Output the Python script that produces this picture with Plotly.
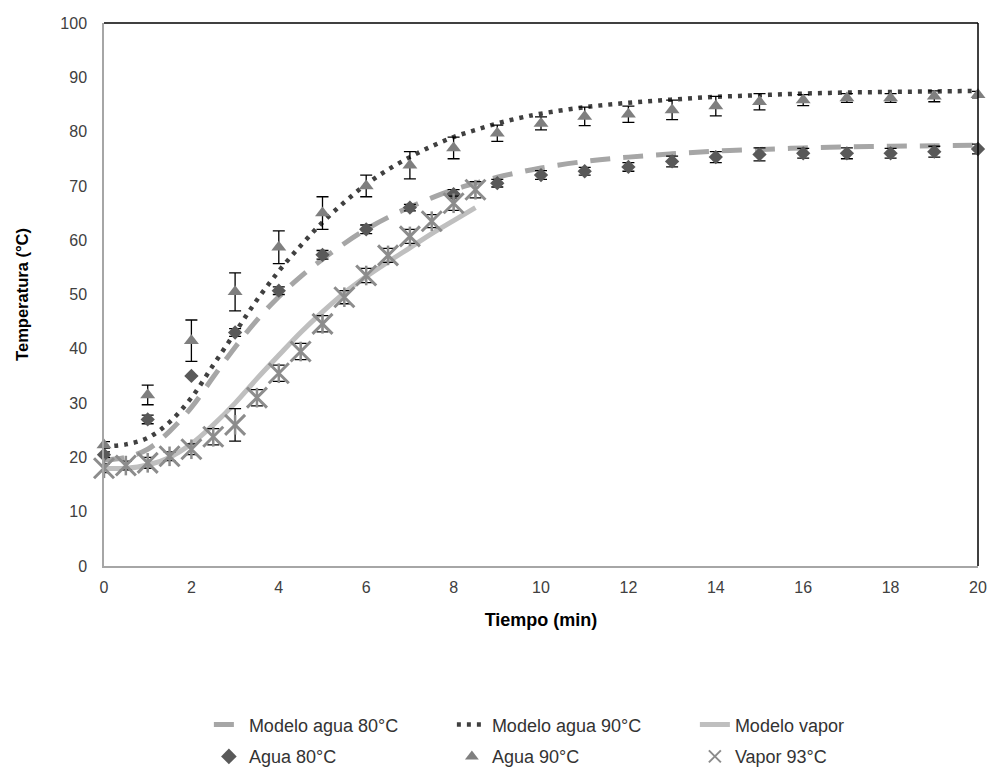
import plotly.graph_objects as go

# ---- data ----
t_model = [0, 0.5, 1, 1.5, 2, 2.5, 3, 3.5, 4, 4.5, 5, 5.5, 6, 6.5, 7, 7.5, 8, 8.5, 9, 9.5, 10,
           11, 12, 13, 14, 15, 16, 17, 18, 19, 20]
modelo_80 = [19.5, 20.0, 21.5, 24.8, 29.2, 34.8, 40.3, 45.3, 49.6, 53.3, 56.5, 59.4, 62.0, 64.2, 66.1,
             67.8, 69.3, 70.5, 71.6, 72.5, 73.3, 74.5, 75.3, 75.9, 76.4, 76.7, 77.0, 77.2, 77.3, 77.4, 77.5]
modelo_90 = [22.0, 22.4, 23.6, 26.5, 31.0, 37.0, 43.0, 49.0, 54.3, 59.0, 63.3, 67.0, 70.3, 73.0, 75.3,
             77.3, 79.0, 80.3, 81.5, 82.5, 83.3, 84.5, 85.3, 85.9, 86.4, 86.7, 87.0, 87.2, 87.3, 87.4, 87.5]
t_vapor_model = [0, 0.5, 1, 1.5, 2, 2.5, 3, 3.5, 4, 4.5, 5, 5.5, 6, 6.5, 7, 7.5, 8, 8.5]
modelo_vapor = [18.0, 18.0, 18.6, 20.0, 22.5, 26.0, 30.0, 34.5, 38.8, 43.0, 46.8, 50.3, 53.3, 56.0,
                58.6, 61.2, 63.6, 66.0]

t_agua = list(range(0, 21))
agua_80 = [20.5, 27, 35, 43, 50.7, 57.3, 62, 66, 68.5, 70.5, 72, 72.7, 73.5, 74.5, 75.3, 75.8, 76, 76, 76, 76.3, 76.8]
agua_80_err = [0.5, 0.8, 0, 0.7, 0.7, 0.8, 0.8, 0.6, 0.8, 0.7, 0.8, 0.7, 0.8, 1.0, 1.0, 1.2, 0.9, 1.0, 0.9, 1.0, 0.9]
agua_90 = [22.3, 31.5, 41.5, 50.5, 58.7, 65, 70, 73.8, 77, 79.7, 81.5, 82.8, 83.2, 84, 84.7, 85.5, 85.8, 86.2, 86.2, 86.5, 86.8]
agua_90_err = [0.6, 1.8, 3.8, 3.5, 3.0, 3.0, 2.0, 2.5, 2.0, 1.5, 1.2, 1.7, 1.5, 1.8, 1.8, 1.5, 1.0, 0.8, 0.8, 1.0, 0.6]
t_vapor = [0, 0.5, 1, 1.5, 2, 2.5, 3, 3.5, 4, 4.5, 5, 5.5, 6, 6.5, 7, 7.5, 8, 8.5]
vapor_93 = [18, 18.5, 19, 20.2, 21.5, 23.8, 26, 31, 35.5, 39.5, 44.6, 49.5, 53.5, 57.2, 60.7, 63.5, 66.8, 69.3]
vapor_93_err = [0.8, 0.8, 1, 0.8, 1, 1.5, 3, 1.5, 1.5, 1.5, 1.5, 1.2, 1.3, 1.3, 1.3, 1.2, 1.3, 1.5]

x_ticks = [0, 2, 4, 6, 8, 10, 12, 14, 16, 18, 20]
y_ticks = [0, 10, 20, 30, 40, 50, 60, 70, 80, 90, 100]

FONT = "Liberation Sans, Arial, sans-serif"

fig = go.Figure()

fig.add_trace(go.Scatter(x=t_model, y=modelo_80, mode="lines", name="Modelo agua 80°C",
                         line=dict(color="#A6A6A6", width=5, dash="20px,13px", shape="spline"),
                         legend="legend"))
fig.add_trace(go.Scatter(x=t_model, y=modelo_90, mode="lines", name="Modelo agua 90°C",
                         line=dict(color="#404040", width=4.5, dash="4px,6px", shape="spline"),
                         legend="legend"))
fig.add_trace(go.Scatter(x=t_vapor_model, y=modelo_vapor, mode="lines", name="Modelo vapor",
                         line=dict(color="#BFBFBF", width=5, shape="spline"),
                         legend="legend"))

err_style = dict(type="data", color="black", thickness=1.3, width=6)

fig.add_trace(go.Scatter(x=t_agua, y=agua_80, mode="markers", name="Agua 80°C", cliponaxis=False,
                         marker=dict(symbol="diamond", size=11, color="#595959"),
                         error_y=dict(array=agua_80_err, **err_style), legend="legend2"))
fig.add_trace(go.Scatter(x=t_agua, y=agua_90, mode="markers", name="Agua 90°C", cliponaxis=False,
                         marker=dict(symbol="triangle-up", size=13, color="#7F7F7F"),
                         error_y=dict(array=agua_90_err, **err_style), legend="legend2"))
fig.add_trace(go.Scatter(x=t_vapor, y=vapor_93, mode="markers", name="Vapor 93°C", cliponaxis=False,
                         marker=dict(symbol="x-thin-open", size=20, color="#8C8C8C",
                                     line=dict(color="#8C8C8C", width=3)),
                         error_y=dict(array=vapor_93_err, **err_style), legend="legend2"))
fig.add_trace(go.Scatter(x=t_vapor, y=vapor_93, mode="markers", showlegend=False, hoverinfo="skip",
                         cliponaxis=False,
                         marker=dict(symbol="line-ns-open", size=14, color="#8C8C8C",
                                     line=dict(color="#8C8C8C", width=2.5))))

fig.update_layout(
    width=998, height=769,
    margin=dict(l=104, r=11, t=23, b=203),
    paper_bgcolor="white", plot_bgcolor="white",
    font=dict(family=FONT, size=16, color="#333333"),
    xaxis=dict(range=[0, 20], tickvals=x_ticks, showgrid=False, zeroline=False,
               showline=True, linecolor="#A6A6A6", linewidth=1.5, ticks="",
               ticklabelstandoff=6, tickfont=dict(size=16, color="#404040"),
               title=dict(text="<b>Tiempo (min)</b>", font=dict(size=18, color="black"), standoff=18)),
    yaxis=dict(range=[0, 100], tickvals=y_ticks, showgrid=False, zeroline=False,
               showline=True, linecolor="#A6A6A6", linewidth=1.5, ticks="",
               ticklabelstandoff=12, tickfont=dict(size=16, color="#404040"),
               title=dict(text="<b>Temperatura (°C)</b>", font=dict(size=16.5, color="black"), standoff=28)),
    legend=dict(orientation="h", x=0.12, xanchor="left", yref="container", y=0.0575, yanchor="middle",
                entrywidth=198, entrywidthmode="pixels", font=dict(size=18, color="#333333"),
                bgcolor="rgba(0,0,0,0)"),
    legend2=dict(orientation="h", x=0.12, xanchor="left", yref="container", y=0.016, yanchor="middle",
                 entrywidth=198, entrywidthmode="pixels", font=dict(size=18, color="#333333"),
                 itemsizing="constant", bgcolor="rgba(0,0,0,0)"),
    shapes=[
        dict(type="line", xref="paper", yref="paper", x0=0, x1=1, y0=1, y1=1,
             line=dict(color="black", width=1.5)),
        dict(type="line", xref="paper", yref="paper", x0=1, x1=1, y0=0, y1=1,
             line=dict(color="black", width=1.5)),
    ],
)

fig.write_html("out.html")
